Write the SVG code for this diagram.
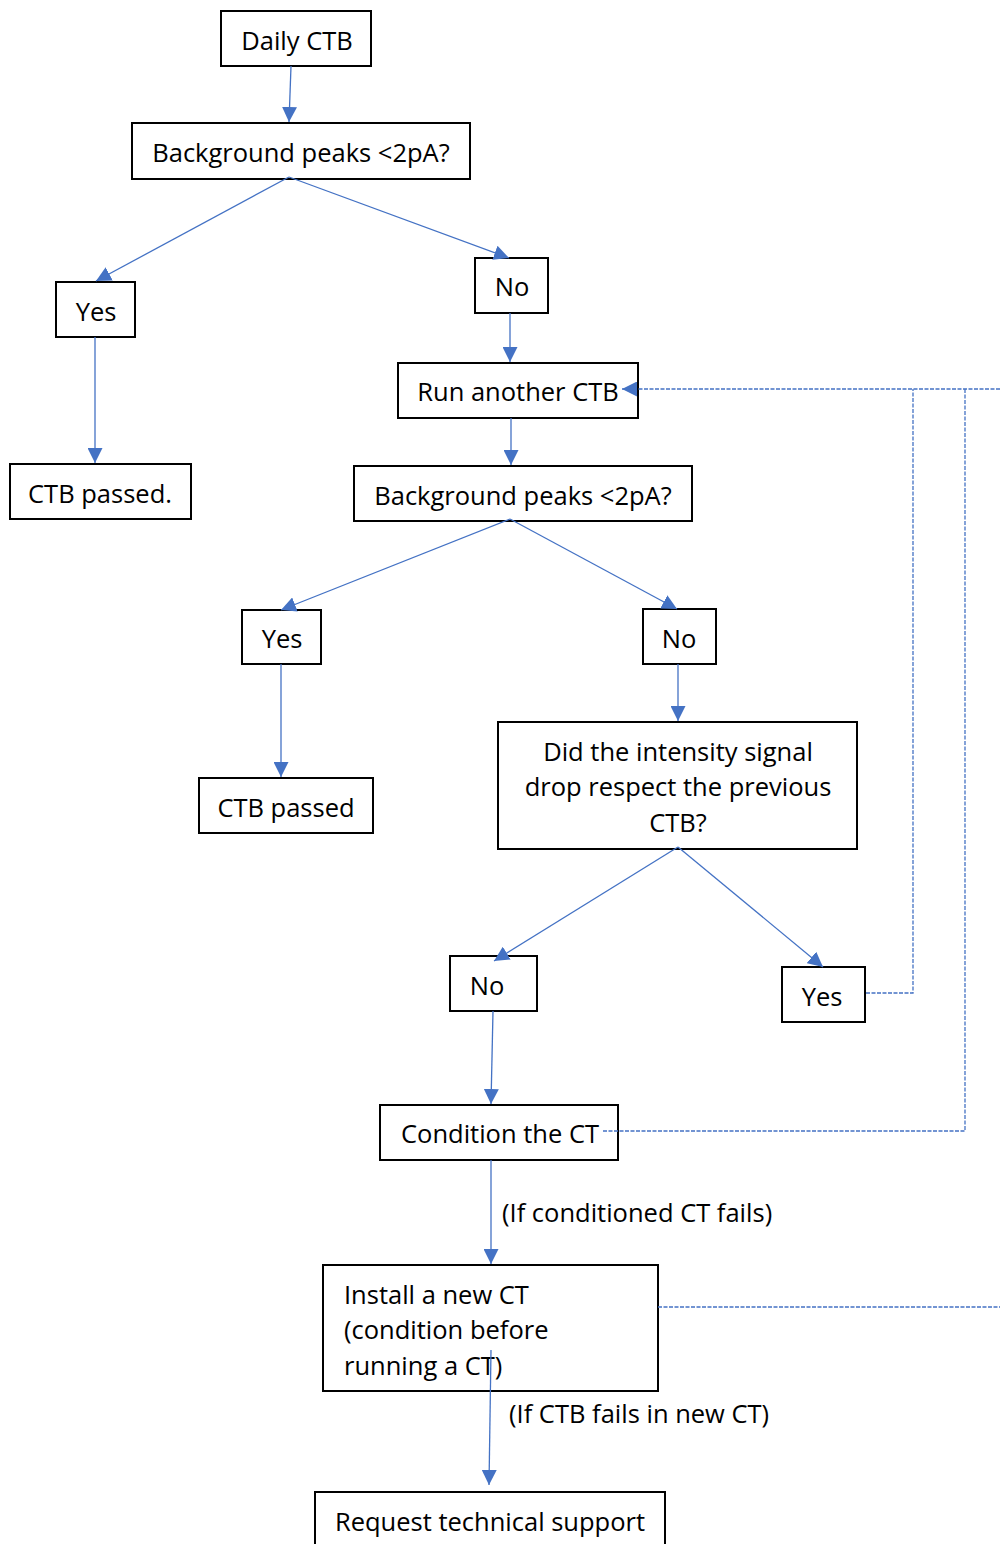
<svg xmlns="http://www.w3.org/2000/svg" width="1000" height="1544" viewBox="0 0 1000 1544">
  <style>
    .box { fill: #ffffff; stroke: #000000; stroke-width: 2; }
    .lbl { font-family: "Open Sans", "Liberation Sans", sans-serif; font-size: 25.5px; fill: #000000; dominant-baseline: central; }
    .mid { text-anchor: middle; }
    .link { stroke: #4472C4; stroke-width: 1.3; fill: none; }
    .loop { stroke: #4472C4; stroke-width: 1.3; fill: none; stroke-dasharray: 4 1.5; }
  </style>
  <defs>
    <marker id="tipBig" viewBox="0 0 10 10" refX="10" refY="5" markerWidth="15" markerHeight="15" markerUnits="userSpaceOnUse" orient="auto">
      <path d="M0,0 L10,5 L0,10 Z" fill="#4472C4"/>
    </marker>
  </defs>

  <!-- nodes -->
  <g id="daily-ctb">
    <rect class="box" x="221" y="11" width="150" height="55"/>
    <text class="lbl mid" x="297" y="40">Daily CTB</text>
  </g>
  <g id="bg-peaks-1">
    <rect class="box" x="132" y="123" width="338" height="56"/>
    <text class="lbl mid" x="301" y="152">Background peaks &lt;2pA?</text>
  </g>
  <g id="yes-1">
    <rect class="box" x="56" y="282" width="79" height="55"/>
    <text class="lbl mid" x="96" y="311">Yes</text>
  </g>
  <g id="no-1">
    <rect class="box" x="475" y="258" width="73" height="55"/>
    <text class="lbl mid" x="512" y="286">No</text>
  </g>
  <g id="run-another">
    <rect class="box" x="398" y="363" width="240" height="55"/>
    <text class="lbl mid" x="518" y="391">Run another CTB</text>
  </g>
  <g id="ctb-passed-1">
    <rect class="box" x="10" y="464" width="181" height="55"/>
    <text class="lbl mid" x="100" y="493">CTB passed.</text>
  </g>
  <g id="bg-peaks-2">
    <rect class="box" x="354" y="466" width="338" height="55"/>
    <text class="lbl mid" x="523" y="495">Background peaks &lt;2pA?</text>
  </g>
  <g id="yes-2">
    <rect class="box" x="242" y="610" width="79" height="54"/>
    <text class="lbl mid" x="282" y="638">Yes</text>
  </g>
  <g id="no-2">
    <rect class="box" x="643" y="609" width="73" height="55"/>
    <text class="lbl mid" x="679" y="638">No</text>
  </g>
  <g id="ctb-passed-2">
    <rect class="box" x="199" y="778" width="174" height="55"/>
    <text class="lbl mid" x="286" y="807">CTB passed</text>
  </g>
  <g id="signal-drop">
    <rect class="box" x="498" y="722" width="359" height="127"/>
    <text class="lbl mid" x="678" y="751">Did the intensity signal</text>
    <text class="lbl mid" x="678" y="786">drop respect the previous</text>
    <text class="lbl mid" x="678" y="822">CTB?</text>
  </g>
  <g id="no-3">
    <rect class="box" x="450" y="956" width="87" height="55"/>
    <text class="lbl mid" x="487" y="985">No</text>
  </g>
  <g id="yes-3">
    <rect class="box" x="782" y="967" width="83" height="55"/>
    <text class="lbl mid" x="822" y="996">Yes</text>
  </g>
  <g id="condition-ct">
    <rect class="box" x="380" y="1105" width="238" height="55"/>
    <text class="lbl mid" x="500" y="1133">Condition the CT</text>
  </g>
  <g id="install-ct">
    <rect class="box" x="323" y="1265" width="335" height="126"/>
    <text class="lbl" x="344" y="1294">Install a new CT</text>
    <text class="lbl" x="344" y="1329">(condition before</text>
    <text class="lbl" x="344" y="1365">running a CT)</text>
  </g>
  <g id="tech-support">
    <rect class="box" x="315" y="1492" width="350" height="60"/>
    <text class="lbl mid" x="490" y="1521">Request technical support</text>
  </g>

  <!-- connectors, drawn over the boxes -->
  <g id="connectors">
    <line class="link" x1="291" y1="66" x2="289" y2="122" marker-end="url(#tipBig)"/>
    <line class="link" x1="289" y1="177" x2="96" y2="281" marker-end="url(#tipBig)"/>
    <line class="link" x1="289" y1="177" x2="509" y2="258" marker-end="url(#tipBig)"/>
    <line class="link" x1="510" y1="313" x2="510" y2="362" marker-end="url(#tipBig)"/>
    <line class="link" x1="95" y1="337" x2="95" y2="463" marker-end="url(#tipBig)"/>
    <line class="link" x1="511" y1="418" x2="511" y2="465" marker-end="url(#tipBig)"/>
    <line class="link" x1="510" y1="519" x2="281" y2="610" marker-end="url(#tipBig)"/>
    <line class="link" x1="510" y1="519" x2="677" y2="609" marker-end="url(#tipBig)"/>
    <line class="link" x1="281" y1="664" x2="281" y2="777" marker-end="url(#tipBig)"/>
    <line class="link" x1="678" y1="664" x2="678" y2="721" marker-end="url(#tipBig)"/>
    <line class="link" x1="678" y1="847" x2="494" y2="961" marker-end="url(#tipBig)"/>
    <line class="link" x1="678" y1="847" x2="823" y2="967" marker-end="url(#tipBig)"/>
    <line class="link" x1="493" y1="1011" x2="491" y2="1104" marker-end="url(#tipBig)"/>
    <line class="link" x1="491" y1="1160" x2="491" y2="1264" marker-end="url(#tipBig)"/>
    <line class="link" x1="491" y1="1350" x2="489" y2="1485" marker-end="url(#tipBig)"/>

    <!-- feedback loops back to "Run another CTB" -->
    <line class="loop" x1="1000" y1="389" x2="622" y2="389" marker-end="url(#tipBig)"/>
    <polyline class="loop" points="866,993 913,993 913,389"/>
    <polyline class="loop" points="603,1131 965,1131 965,389"/>
    <line class="loop" x1="658" y1="1307" x2="1000" y2="1307"/>

    <text class="lbl" x="502" y="1212">(If conditioned CT fails)</text>
    <text class="lbl" x="509" y="1413">(If CTB fails in new CT)</text>
  </g>
</svg>
